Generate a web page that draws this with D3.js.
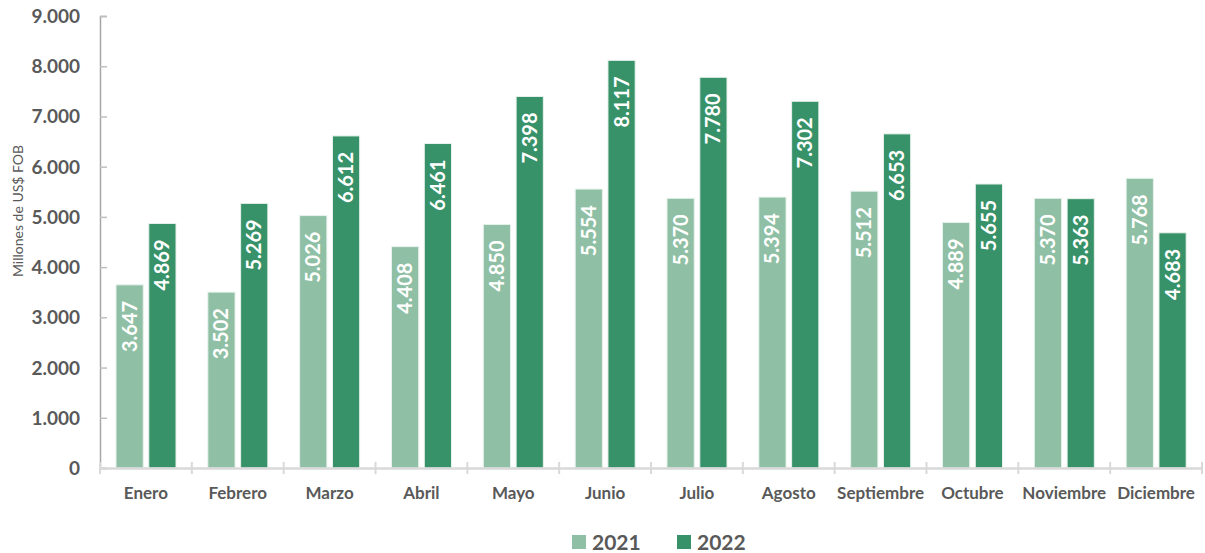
<!DOCTYPE html>
<html>
<head>
<meta charset="utf-8">
<script src="https://cdn.jsdelivr.net/npm/d3@7"></script>
<style>
  body { margin: 0; background: #fff; }
  svg { display: block; font-family: Lato, "Open Sans", sans-serif; }
</style>
</head>
<body>
<svg id="chart" width="1205" height="553"></svg>
<script>
var months = ["Enero","Febrero","Marzo","Abril","Mayo","Junio","Julio","Agosto","Septiembre","Octubre","Noviembre","Diciembre"];
var series = ["2021","2022"];
var values2021 = [3647,3502,5026,4408,4850,5554,5370,5394,5512,4889,5370,5768];
var values2022 = [4869,5269,6612,6461,7398,8117,7780,7302,6653,5655,5363,4683];
var yTicks = [0,1000,2000,3000,4000,5000,6000,7000,8000,9000];
var colors = ["#8fbfa4","#389269"];

var esLocale = d3.formatLocale({decimal: ",", thousands: ".", grouping: [3], currency: ["$",""]});
var fmt = esLocale.format(",d");

var svg = d3.select("#chart");
var plotL = 100, plotR = 1202, plotT = 16, plotB = 468;

var x0 = d3.scaleBand().domain(months).range([plotL, plotR]).padding(0);
var x1 = d3.scaleBand().domain(series).range([16, 76]).paddingInner(0.17);
var y = d3.scaleLinear().domain([0, 9000]).range([plotB, plotT]);
var color = d3.scaleOrdinal().domain(series).range(colors);

var rows = months.map(function(m, i) {
    return {month: m, vals: [
        {s: "2021", v: values2021[i]},
        {s: "2022", v: values2022[i]}
    ]};
});

// bars
var groups = svg.append("g").selectAll("g")
    .data(rows)
    .enter().append("g")
    .attr("transform", function(d) { return "translate(" + x0(d.month) + ",0)"; });

groups.selectAll("rect")
    .data(function(d) { return d.vals; })
    .enter().append("rect")
    .attr("x", function(d) { return x1(d.s); })
    .attr("y", function(d) { return y(d.v); })
    .attr("width", x1.bandwidth())
    .attr("height", function(d) { return plotB - y(d.v); })
    .attr("fill", function(d) { return color(d.s); })
    .attr("stroke", "#e8f2ec")
    .attr("stroke-width", 1);

groups.selectAll("text")
    .data(function(d) { return d.vals; })
    .enter().append("text")
    .attr("transform", function(d) {
        var cx = x1(d.s) + x1.bandwidth() / 2 + 7;
        return "translate(" + cx + "," + (y(d.v) + 16) + ") rotate(-90)";
    })
    .attr("text-anchor", "end")
    .attr("fill", "#fff")
    .attr("font-size", 20)
    .attr("font-weight", "bold")
    .text(function(d) { return fmt(d.v); });

// y axis
var yAxis = svg.append("g")
    .attr("transform", "translate(" + plotL + ",0)")
    .call(d3.axisRight(y).tickValues(yTicks).tickSize(7).tickFormat(""));
yAxis.select(".domain").attr("stroke", "#a6a6a6").attr("stroke-width", 1.5);
yAxis.selectAll(".tick line").attr("stroke", "#bfbfbf").attr("stroke-width", 1.5);

svg.append("g").selectAll("text")
    .data(yTicks)
    .enter().append("text")
    .attr("x", 80)
    .attr("y", function(d) { return y(d) + 7; })
    .attr("text-anchor", "end")
    .attr("fill", "#595959")
    .attr("font-size", 19)
    .attr("font-weight", "bold")
    .text(function(d) { return fmt(d); });

// x axis
var xAxis = svg.append("g")
    .attr("transform", "translate(0," + plotB + ")")
    .call(d3.axisBottom(x0).tickSize(0).tickFormat(""));
xAxis.select(".domain").attr("stroke", "#d9d9d9").attr("stroke-width", 2.5);
xAxis.selectAll(".tick").remove();

var bounds = months.map(function(m) { return x0(m); }).concat([plotR]);
xAxis.selectAll("line.sep")
    .data(bounds)
    .enter().append("line")
    .attr("class", "sep")
    .attr("x1", function(d) { return d; })
    .attr("x2", function(d) { return d; })
    .attr("y1", -6)
    .attr("y2", 6)
    .attr("stroke", "#d9d9d9")
    .attr("stroke-width", 2);

svg.append("g").selectAll("text")
    .data(months)
    .enter().append("text")
    .attr("x", function(d) { return x0(d) + x0.bandwidth() / 2; })
    .attr("y", 499)
    .attr("text-anchor", "middle")
    .attr("fill", "#595959")
    .attr("font-size", 17)
    .attr("font-weight", "bold")
    .text(function(d) { return d; });

// y title
svg.append("text")
    .attr("transform", "translate(23,211) rotate(-90)")
    .attr("text-anchor", "middle")
    .attr("fill", "#595959")
    .attr("font-size", 14)
    .text("Millones de US$ FOB");

// legend
var legend = svg.append("g").selectAll("g")
    .data(series)
    .enter().append("g")
    .attr("transform", function(d, i) { return "translate(" + (572 + i * 105) + ",535)"; });
legend.append("rect")
    .attr("width", 14)
    .attr("height", 14)
    .attr("fill", function(d) { return color(d); });
legend.append("text")
    .attr("x", 20)
    .attr("y", 14.5)
    .attr("fill", "#595959")
    .attr("font-size", 21)
    .attr("font-weight", "bold")
    .text(function(d) { return d; });
</script>
</body>
</html>
